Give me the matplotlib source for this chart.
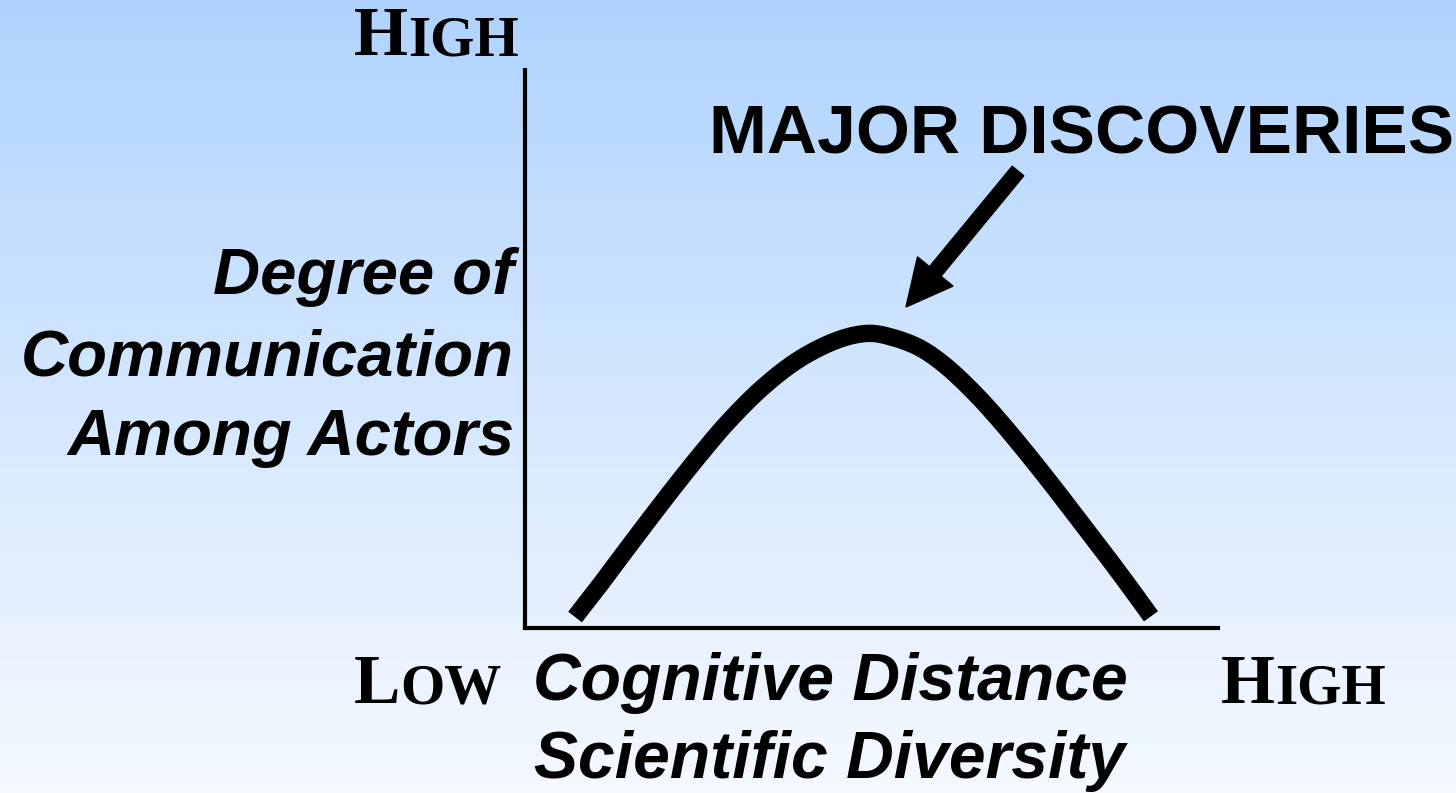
import numpy as np
import matplotlib
matplotlib.use("Agg")
import matplotlib.pyplot as plt
from matplotlib.patches import FancyArrow
from matplotlib.colors import LinearSegmentedColormap

# Curve: communication vs. cognitive distance (both axes on a 0-100 scale)
distance = [7.22, 10.53, 14.00, 17.75, 21.50, 25.25, 29.29, 34.20, 39.39, 44.73,
            49.21, 52.81, 57.00, 60.89, 64.94, 68.54, 72.15, 75.76, 79.37, 82.97,
            86.58, 90.33]
communication = [1.88, 7.16, 12.93, 19.10, 25.15, 30.98, 36.86, 42.96, 47.98, 51.39,
                 52.74, 52.11, 50.13, 46.73, 41.96, 37.04, 31.66, 26.04, 20.22, 14.39,
                 8.41, 2.0]

x_label_lines = ["Cognitive Distance", "Scientific Diversity"]
y_label_lines = ["Degree of", "Communication", "Among Actors"]
peak_label = "MAJOR DISCOVERIES"

W, H = 1456, 793
fig = plt.figure(figsize=(W / 100, H / 100), dpi=100)

# Full-figure overlay in pixel units for background and annotations
ov = fig.add_axes([0, 0, 1, 1])
ov.set_xlim(0, W)
ov.set_ylim(H, 0)
ov.axis("off")
grad = LinearSegmentedColormap.from_list("bg", ["#AFD3FE", "#D4E7FF", "#F5F9FF"])
ov.imshow(np.linspace(0, 1, 256)[:, None], aspect="auto", cmap=grad,
          extent=[0, W, H, 0], zorder=0)

# Plot axes: left/bottom spines only
x0, x1, ytop, ybot = 525, 1218, 70, 627.5
ax = fig.add_axes([x0 / W, 1 - ybot / H, (x1 - x0) / W, (ybot - ytop) / H])
ax.set_facecolor("none")
ax.set_xlim(0, 100)
ax.set_ylim(0, 100)
for s in ("top", "right"):
    ax.spines[s].set_visible(False)
for s in ("left", "bottom"):
    ax.spines[s].set_linewidth(3.0)
    ax.spines[s].set_color("black")
ax.set_xticks([])
ax.set_yticks([])


def catmull_rom(xs, ys, n=30):
    p = np.column_stack([xs, ys]).astype(float)
    p = np.vstack([2 * p[0] - p[1], p, 2 * p[-1] - p[-2]])
    out = []
    t = np.linspace(0, 1, n, endpoint=False)[:, None]
    for i in range(1, len(p) - 2):
        a, b, c, d = p[i - 1], p[i], p[i + 1], p[i + 2]
        out.append(0.5 * ((2 * b) + (-a + c) * t + (2 * a - 5 * b + 4 * c - d) * t ** 2
                          + (-a + 3 * b - 3 * c + d) * t ** 3))
    out.append(p[-2][None, :])
    return np.vstack(out)


smooth = catmull_rom(distance, communication)
ax.plot(smooth[:, 0], smooth[:, 1], color="black", lw=12.5, solid_capstyle="butt",
        solid_joinstyle="round", clip_on=False)

# Arrow pointing at the peak
ov.add_patch(FancyArrow(1018, 171, 906 - 1018, 307 - 171, width=15,
                        head_width=46, head_length=46, length_includes_head=True,
                        color="black", zorder=5))

sans = dict(family="Liberation Sans", weight="bold", color="black")
serif = dict(family="Liberation Serif", weight="bold", color="black")

ov.text(709, 153, peak_label, fontsize=50, va="baseline", ha="left", **sans)

for line, yb in zip(y_label_lines, [294, 375, 455]):
    ov.text(514, yb, line, fontsize=47, style="italic", va="baseline",
            ha="right", **sans)

for line, yb in zip(x_label_lines, [700, 778]):
    ov.text(830, yb, line, fontsize=47.5, style="italic", va="baseline",
            ha="center", **sans)

renderer = fig.canvas.get_renderer()


def small_caps(x, y, word, big=50, small=41):
    t = ov.text(x, y, word[0], fontsize=big, va="baseline", ha="left", **serif)
    wpx = t.get_window_extent(renderer).width
    ov.text(x + wpx, y, word[1:], fontsize=small, va="baseline", ha="left", **serif)


small_caps(354, 55, "HIGH")
small_caps(354, 703, "LOW")
small_caps(1221, 703, "HIGH")

fig.savefig("out.png", dpi=100)
